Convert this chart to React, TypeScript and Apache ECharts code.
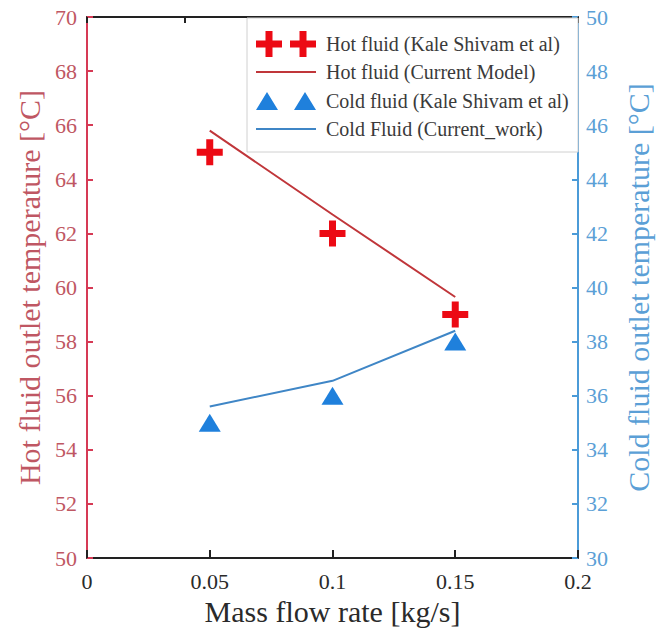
import React, { useEffect, useRef } from "react";
import * as echarts from "echarts";

const massFlow = [0.05, 0.1, 0.15];
const hotExperiment = [65, 62, 59];
const hotModel = [65.8, 62.7, 59.65];
const coldExperiment = [35, 36, 38];
const coldModel = [35.6, 36.55, 38.4];

const seriesNames = [
  "Hot fluid (Kale Shivam et al)",
  "Hot fluid (Current Model)",
  "Cold fluid (Kale Shivam et al)",
  "Cold Fluid (Current_work)",
];

const xTitle = "Mass flow rate [kg/s]";
const yLeftTitle = "Hot fluid outlet temperature [°C]";
const yRightTitle = "Cold fluid outlet temperature [°C]";

const RED_AXIS = "#d63a55";
const RED_TEXT = "#bf5763";
const BLUE_AXIS = "#4b9bd8";
const BLUE_TEXT = "#5b9fd6";
const HOT_MARK = "#ec0a14";
const HOT_LINE = "#c0363a";
const COLD_MARK = "#1f80dc";
const COLD_LINE = "#3f86c6";
const SERIF = "'Liberation Serif', 'DejaVu Serif', serif";

const crossPath =
  "path://M9.5,0H16.5V9.5H26V16.5H16.5V26H9.5V16.5H0V9.5H9.5Z";
const crossPairPath =
  "path://M9.5,0H16.5V9.5H26V16.5H16.5V26H9.5V16.5H0V9.5H9.5Z M43.5,0H50.5V9.5H60V16.5H50.5V26H43.5V16.5H34V9.5H43.5Z";
const trianglePairPath = "path://M0,18L11,0L22,18Z M38,18L49,0L60,18Z";
const linePath = "path://M0,0H60V2H0Z";

const zip = (xs: number[], ys: number[]) => xs.map((x, i) => [x, ys[i]]);

const legendIcons = [crossPairPath, linePath, trianglePairPath, linePath];
const legendColors = [HOT_MARK, HOT_LINE, COLD_MARK, COLD_LINE];
const legendTops = [31, 62, 91, 119];

export default function App() {
  const ref = useRef<HTMLDivElement>(null);

  useEffect(() => {
    if (!ref.current) return;
    const chart = echarts.init(ref.current, undefined, { renderer: "svg" });
    const legends = seriesNames.map((name, i) => ({
      orient: "vertical",
      left: 256,
      top: legendTops[i],
      padding: 0,
      itemWidth: 60,
      itemHeight: 26,
      z: 5,
      selectedMode: false,
      textStyle: {
        fontFamily: SERIF,
        fontSize: 20,
        color: "#3a3a3a",
        padding: [0, 0, 0, 5],
      },
      data: [{ name, icon: legendIcons[i], itemStyle: { color: legendColors[i], opacity: 1 } }],
    }));
    chart.setOption({
      animation: false,
      backgroundColor: "#ffffff",
      grid: { left: 87, right: 76, top: 17, bottom: 76, containLabel: false },
      graphic: [
        {
          type: "rect",
          z: 3,
          shape: { x: 247, y: 18, width: 331, height: 134 },
          style: { fill: "#ffffff", stroke: "#d0d0d0", lineWidth: 1 },
        },
      ],
      legend: legends,
      xAxis: [
        {
          type: "value",
          position: "bottom",
          min: 0,
          max: 0.2,
          interval: 0.05,
          name: xTitle,
          nameLocation: "middle",
          nameGap: 38,
          nameTextStyle: { fontFamily: SERIF, fontSize: 30, color: "#2a2a2a" },
          axisLine: { show: true, onZero: false, lineStyle: { color: "#222", width: 2 } },
          axisTick: { show: true, inside: true, length: 8, lineStyle: { color: "#222", width: 2 } },
          axisLabel: { fontFamily: SERIF, fontSize: 22, color: "#2a2a2a", margin: 12 },
          splitLine: { show: false },
        },
        {
          type: "value",
          position: "top",
          min: 0,
          max: 0.2,
          interval: 0.04,
          axisLine: { show: true, onZero: false, lineStyle: { color: "#222", width: 2 } },
          axisTick: { show: true, inside: true, length: 6, lineStyle: { color: "#222", width: 2 } },
          axisLabel: { show: false },
          splitLine: { show: false },
        },
      ],
      yAxis: [
        {
          type: "value",
          position: "left",
          min: 50,
          max: 70,
          interval: 2,
          name: yLeftTitle,
          nameLocation: "middle",
          nameRotate: 90,
          nameGap: 42,
          nameTextStyle: { fontFamily: SERIF, fontSize: 30, color: RED_TEXT },
          axisLine: { show: true, onZero: false, lineStyle: { color: RED_AXIS, width: 2 } },
          axisTick: { show: true, inside: true, length: 6, lineStyle: { color: RED_AXIS, width: 2 } },
          axisLabel: { fontFamily: SERIF, fontSize: 22, color: RED_TEXT, margin: 10 },
          splitLine: { show: false },
        },
        {
          type: "value",
          position: "right",
          min: 30,
          max: 50,
          interval: 2,
          name: yRightTitle,
          nameLocation: "middle",
          nameRotate: 90,
          nameGap: 45,
          nameTextStyle: { fontFamily: SERIF, fontSize: 30, color: BLUE_TEXT },
          axisLine: { show: true, onZero: false, lineStyle: { color: BLUE_AXIS, width: 2 } },
          axisTick: { show: true, inside: true, length: 6, lineStyle: { color: BLUE_AXIS, width: 2 } },
          axisLabel: { fontFamily: SERIF, fontSize: 22, color: BLUE_TEXT, margin: 8 },
          splitLine: { show: false },
        },
      ],
      series: [
        {
          name: seriesNames[0],
          type: "scatter",
          xAxisIndex: 0,
          yAxisIndex: 0,
          symbol: crossPath,
          symbolSize: 26,
          itemStyle: { color: HOT_MARK, opacity: 1 },
          data: zip(massFlow, hotExperiment),
          z: 4,
        },
        {
          name: seriesNames[1],
          type: "line",
          xAxisIndex: 0,
          yAxisIndex: 0,
          showSymbol: false,
          symbol: "none",
          lineStyle: { color: HOT_LINE, width: 2 },
          itemStyle: { color: HOT_LINE },
          data: zip(massFlow, hotModel),
          z: 3,
        },
        {
          name: seriesNames[2],
          type: "scatter",
          xAxisIndex: 0,
          yAxisIndex: 1,
          symbol: "triangle",
          symbolSize: [22, 18],
          itemStyle: { color: COLD_MARK, opacity: 1 },
          data: zip(massFlow, coldExperiment),
          z: 4,
        },
        {
          name: seriesNames[3],
          type: "line",
          xAxisIndex: 0,
          yAxisIndex: 1,
          showSymbol: false,
          symbol: "none",
          lineStyle: { color: COLD_LINE, width: 2 },
          itemStyle: { color: COLD_LINE },
          data: zip(massFlow, coldModel),
          z: 3,
        },
      ],
    });
    return () => chart.dispose();
  }, []);

  return (
    <div
      ref={ref}
      style={{ position: "absolute", left: 0, top: 0, width: 661, height: 634, background: "#fff" }}
    />
  );
}
